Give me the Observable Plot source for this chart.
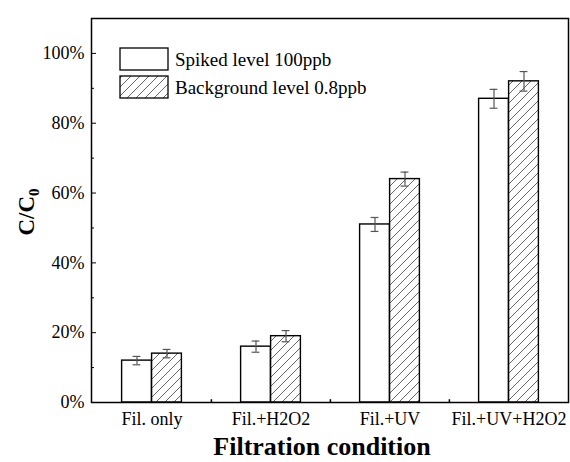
<!DOCTYPE html>
<html>
<head>
<meta charset="utf-8">
<script src="https://cdn.jsdelivr.net/npm/d3@7"></script>
<script src="https://cdn.jsdelivr.net/npm/@observablehq/plot@0.6"></script>
<style>
  html, body { margin: 0; padding: 0; background: white; }
  svg { display: block; }
</style>
</head>
<body>
<div id="chart"></div>
<script>
const categories = ["Fil. only", "Fil.+H2O2", "Fil.+UV", "Fil.+UV+H2O2"];
const seriesNames = ["Spiked level 100ppb", "Background level 0.8ppb"];
const spiked = [12, 16, 51, 87];
const spikedErr = [1.2, 1.6, 2.0, 2.7];
const background = [14, 19, 64, 92];
const backgroundErr = [1.2, 1.6, 2.0, 2.8];
const yTicks = [0, 20, 40, 60, 80, 100];
const yMinorTicks = [10, 30, 50, 70, 90];

const spikedData = categories.map((c, i) => ({cat: c, v: spiked[i], e: spikedErr[i]}));
const backgroundData = categories.map((c, i) => ({cat: c, v: background[i], e: backgroundErr[i]}));

const half = 59.6; // half band width in px
const barW = 30;
const serif = "'Liberation Serif', 'Times New Roman', serif";

const chart = Plot.plot({
  width: 570,
  height: 462,
  marginLeft: 91,
  marginRight: 2,
  marginTop: 18,
  marginBottom: 60,
  style: {fontFamily: serif, fontSize: "18px", color: "#000", background: "white"},
  x: {domain: categories, padding: 0, label: null},
  y: {domain: [0, 110], label: null},
  marks: [
    Plot.barY(spikedData, {x: "cat", y: "v", insetLeft: half - barW, insetRight: half, fill: "white", stroke: "black", strokeWidth: 1.4}),
    Plot.barY(backgroundData, {x: "cat", y: "v", insetLeft: half, insetRight: half - barW, fill: "url(#hatch)", stroke: "black", strokeWidth: 1.4}),
    Plot.ruleX(spikedData, {x: "cat", y1: d => d.v - d.e, y2: d => d.v + d.e, dx: -barW / 2, stroke: "#555", strokeWidth: 1.2}),
    Plot.tickY(spikedData, {x: "cat", y: d => d.v + d.e, dx: -barW / 2, insetLeft: half - 4, insetRight: half - 4, stroke: "#555", strokeWidth: 1.2}),
    Plot.tickY(spikedData, {x: "cat", y: d => d.v - d.e, dx: -barW / 2, insetLeft: half - 4, insetRight: half - 4, stroke: "#555", strokeWidth: 1.2}),
    Plot.ruleX(backgroundData, {x: "cat", y1: d => d.v - d.e, y2: d => d.v + d.e, dx: barW / 2, stroke: "#555", strokeWidth: 1.2}),
    Plot.tickY(backgroundData, {x: "cat", y: d => d.v + d.e, dx: barW / 2, insetLeft: half - 4, insetRight: half - 4, stroke: "#555", strokeWidth: 1.2}),
    Plot.tickY(backgroundData, {x: "cat", y: d => d.v - d.e, dx: barW / 2, insetLeft: half - 4, insetRight: half - 4, stroke: "#555", strokeWidth: 1.2}),
    Plot.ruleX(categories.slice(1), {x: d => d, dx: -half, y1: 0, y2: 0.8, stroke: "black", strokeWidth: 1.5}),
    Plot.axisY({ticks: yTicks, tickSize: -5, tickPadding: 12, tickFormat: d => d + "%", fontSize: 18}),
    Plot.axisY({ticks: yMinorTicks, tickSize: -3, tickFormat: () => ""}),
    Plot.axisX({tickSize: 0, tickPadding: 10, fontSize: 18}),
    Plot.frame({stroke: "black", strokeWidth: 1.5})
  ]
});

const svg = d3.select(chart);
const defs = svg.insert("defs", ":first-child");
const pat = defs.append("pattern")
  .attr("id", "hatch")
  .attr("patternUnits", "userSpaceOnUse")
  .attr("width", 9).attr("height", 9);
pat.append("rect").attr("width", 9).attr("height", 9).attr("fill", "white");
pat.append("path")
  .attr("d", "M0,9 L9,0 M-2,2 L2,-2 M7,11 L11,7")
  .attr("stroke", "#555").attr("stroke-width", 0.9);

// Legend
const legend = svg.append("g")
  .attr("font-family", serif).attr("font-size", 19).attr("text-anchor", "start");
const legendRows = [{y: 48, fill: "white"}, {y: 76, fill: "url(#hatch)"}];
seriesNames.forEach((name, i) => {
  const r = legendRows[i];
  legend.append("rect").attr("x", 120).attr("y", r.y).attr("width", 48).attr("height", 22)
    .attr("fill", r.fill).attr("stroke", "black").attr("stroke-width", 1.3);
  legend.append("text").attr("x", 175).attr("y", r.y + 11).attr("dy", "0.35em")
    .attr("text-anchor", "start").attr("fill", "black").text(name);
});

// Axis titles
svg.append("text")
  .attr("x", 322).attr("y", 455)
  .attr("text-anchor", "middle")
  .attr("font-family", serif)
  .attr("font-weight", "bold").attr("font-size", 26)
  .attr("fill", "black")
  .text("Filtration condition");

const yl = svg.append("text")
  .attr("transform", "translate(34,212) rotate(-90)")
  .attr("text-anchor", "middle")
  .attr("font-family", serif)
  .attr("font-weight", "bold").attr("font-size", 23)
  .attr("fill", "black");
yl.append("tspan").text("C/C");
yl.append("tspan").attr("font-size", 15).attr("dy", 5).text("0");

document.getElementById("chart").append(chart);
</script>
</body>
</html>
